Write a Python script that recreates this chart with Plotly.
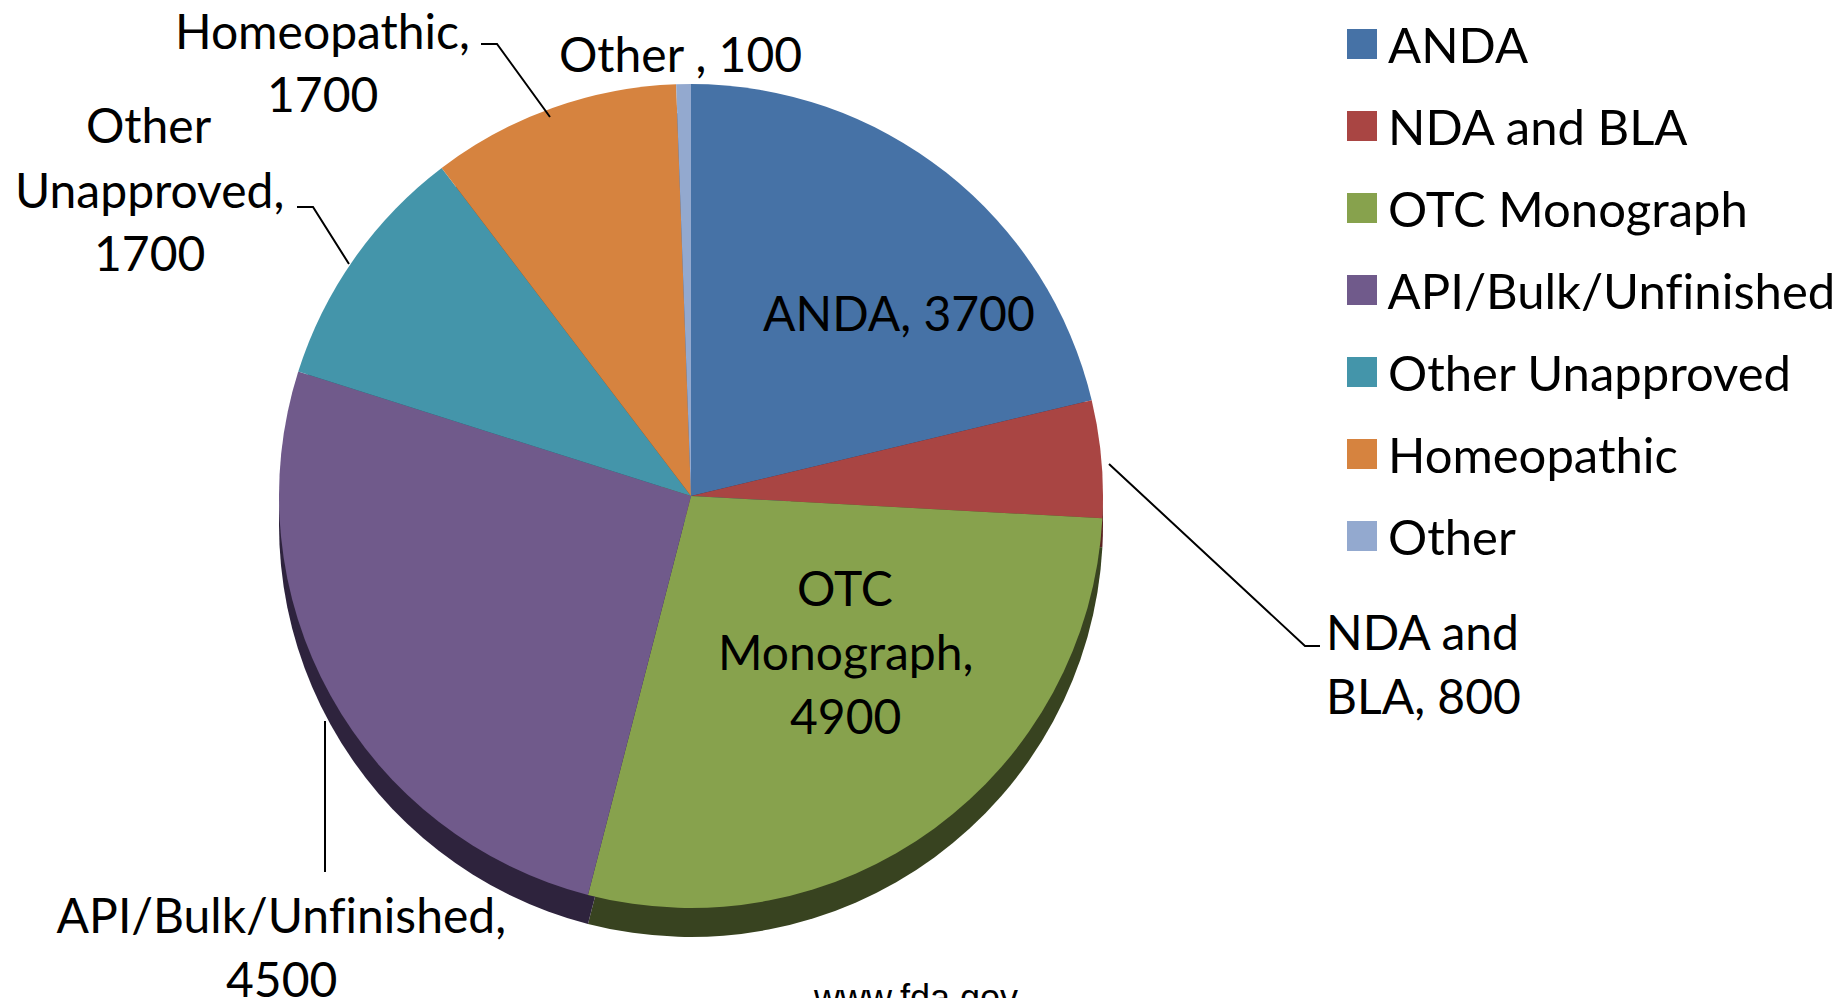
import textwrap
import plotly.graph_objects as go

W, H = 1834, 998

categories = ["ANDA", "NDA and BLA", "OTC Monograph", "API/Bulk/Unfinished",
              "Other Unapproved", "Homeopathic", "Other "]
values = [3700, 800, 4900, 4500, 1700, 1700, 100]
colors = ["#4672A6", "#A94543", "#87A24D", "#705A8B", "#4495AA", "#D6833F", "#93A9CF"]
side_colors = ["#24395A", "#5A2322", "#384320", "#2E233D", "#22505C", "#6E401E", "#4A5670"]
source_note = "www.fda.gov"

# label layout (pixel positions, wrap width, anchor)
label_wrap = [20, 8, 10, 20, 11, 12, 20]
label_pos = [(899, 313), (1324, 663), (845, 651), (281, 946), (149, 189), (322, 62), (680, 54)]
label_anchor = ["center", "left", "center", "center", "center", "center", "center"]
leaders = [
    None,
    [(1109, 464), (1305, 646), (1320, 646)],
    None,
    [(325, 721), (325, 872)],
    [(297, 207), (313, 207), (349, 264)],
    [(481, 44), (497, 44), (550, 117)],
    None,
]

FONT = "Lato, 'Open Sans', sans-serif"
FS_LABEL = 48
FS_LEGEND = 49
LINE = 64


def px(x):
    return x / W


def py(y):
    return 1 - y / H


cx, cy, r = 691, 496, 412
depth = 29

fig = go.Figure()
fig.add_trace(go.Pie(
    labels=categories, values=values, sort=False, direction="clockwise", rotation=0,
    marker=dict(colors=side_colors, line=dict(width=0)), textinfo="none",
    hoverinfo="skip", showlegend=False,
    domain=dict(x=[px(cx - r), px(cx + r)], y=[py(cy + depth + r), py(cy + depth - r)]),
))
fig.add_trace(go.Pie(
    labels=categories, values=values, sort=False, direction="clockwise", rotation=0,
    marker=dict(colors=colors, line=dict(width=0)), textinfo="none",
    hovertemplate="%{label}: %{value}<extra></extra>", showlegend=False,
    domain=dict(x=[px(cx - r), px(cx + r)], y=[py(cy + r), py(cy - r)]),
))

annotations = []
shapes = []

# data labels
for name, val, wrap, (lx, ly), anc, lead in zip(categories, values, label_wrap,
                                                 label_pos, label_anchor, leaders):
    lines = textwrap.wrap(f"{name}, {val}", width=wrap)
    n = len(lines)
    for i, t in enumerate(lines):
        yy = ly + (i - (n - 1) / 2) * LINE
        annotations.append(dict(
            x=px(lx), y=py(yy), xref="paper", yref="paper", text=t, showarrow=False,
            xanchor=anc, yanchor="middle",
            font=dict(family=FONT, size=FS_LABEL, color="#000000"),
        ))
    if lead:
        path = "M " + " L ".join(f"{px(x):.5f},{py(y):.5f}" for x, y in lead)
        shapes.append(dict(type="path", xref="paper", yref="paper", path=path,
                           line=dict(color="#000000", width=2)))

# legend
leg_y0, leg_dy = 44, 82
for i, (name, col) in enumerate(zip(categories, colors)):
    yc = leg_y0 + i * leg_dy
    shapes.append(dict(type="rect", xref="paper", yref="paper",
                       x0=px(1347), x1=px(1377), y0=py(yc + 15), y1=py(yc - 15),
                       fillcolor=col, line=dict(width=0)))
    annotations.append(dict(
        x=px(1386), y=py(yc), xref="paper", yref="paper", text=name.strip(),
        showarrow=False, xanchor="left", yanchor="middle",
        font=dict(family=FONT, size=FS_LEGEND, color="#000000"),
    ))

annotations.append(dict(
    x=px(915), y=py(997), xref="paper", yref="paper", text=source_note, showarrow=False,
    xanchor="center", yanchor="middle",
    font=dict(family="'Liberation Sans', Arial, sans-serif", size=36, color="#000000"),
))

fig.update_layout(
    width=W, height=H, margin=dict(l=0, r=0, t=0, b=0),
    paper_bgcolor="#FFFFFF", plot_bgcolor="#FFFFFF",
    showlegend=False, annotations=annotations, shapes=shapes,
)

fig.write_html(
    "out.html",
    config={"displayModeBar": False},
    post_script=(
        "document.body.style.margin='0';document.body.style.overflow='hidden';"
        "var s=document.createElement('style');"
        "s.textContent='svg text, text, tspan{font-variant-ligatures:none !important;"
        "font-feature-settings:\"liga\" 0, \"clig\" 0 !important;}';"
        "document.head.appendChild(s);"
    ),
)
